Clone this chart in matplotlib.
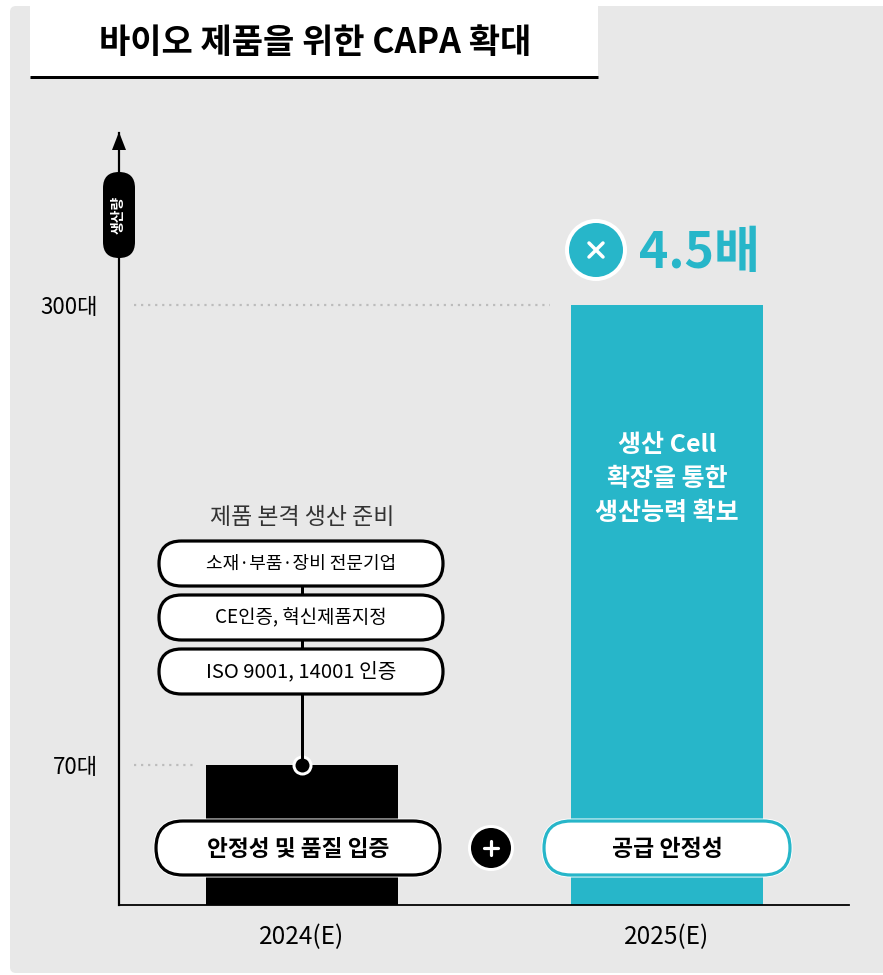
import matplotlib
matplotlib.use("Agg")
import matplotlib.pyplot as plt
from matplotlib.patches import FancyBboxPatch, Circle, Rectangle, Polygon

plt.rcParams['font.family'] = ['Noto Sans CJK KR', 'DejaVu Sans']

# ---- data ----
years = ["2024(E)", "2025(E)"]
capacity = [70, 300]
tick_values = [70, 300]
tick_labels = ["70대", "300대"]
title = "바이오 제품을 위한 CAPA 확대"
prep_heading = "제품 본격 생산 준비"
prep_items = ["소재·부품·장비 전문기업", "CE인증, 혁신제품지정", "ISO 9001, 14001 인증"]
bar_notes = ["안정성 및 품질 입증", "공급 안정성"]
expansion_text = "생산 Cell\n확장을 통한\n생산능력 확보"
multiplier_text = "4.5배"
y_label = "생산량"

TEAL = "#27b6c9"
BG = "#e8e8e8"
W, H = 883, 975
PX = 72 / 100  # points per pixel

fig = plt.figure(figsize=(W / 100, H / 100), dpi=100)
fig.patch.set_facecolor("white")

# background card, pixel coordinates
bg = fig.add_axes([0, 0, 1, 1], zorder=0)
bg.set_xlim(0, W)
bg.set_ylim(H, 0)
bg.axis("off")
bg.add_patch(FancyBboxPatch((10, 6), W + 20, 967, boxstyle="round,pad=0,rounding_size=6",
                            facecolor=BG, edgecolor="none"))
bg.add_patch(Rectangle((30, 0), 568, 77, facecolor="white", edgecolor="none"))
bg.plot([30, 598], [77, 77], color="black", lw=3 * PX, solid_capstyle="butt")
bg.text(315, 42, title, ha="center", va="center", fontsize=24.5, fontweight="bold", color="black")

# chart axes: x from 119 to 849 px, y from 905 (0) to 133 px
ax_left, ax_right, ax_bottom, ax_top = 119, 849, 905, 133
ax = fig.add_axes([ax_left / W, 1 - ax_bottom / H, (ax_right - ax_left) / W, (ax_bottom - ax_top) / H],
                  zorder=1)
ax.patch.set_alpha(0)
ax.set_xlim(-0.5, 1.5)
ax.set_ylim(0, (ax_bottom - ax_top) / 2.0)
xpos = list(range(len(years)))
ax.bar(xpos, capacity, width=192 / 365, color=["black", TEAL], zorder=2)

for s in ["top", "right"]:
    ax.spines[s].set_visible(False)
ax.spines["left"].set_linewidth(2.2 * PX)
ax.spines["bottom"].set_linewidth(1.8 * PX)
ax.set_xticks(xpos)
ax.set_xticklabels(years, fontsize=17.5)
ax.set_yticks(tick_values)
ax.set_yticklabels(tick_labels, fontsize=16)
ax.tick_params(axis="both", length=0)
ax.tick_params(axis="x", pad=14)
ax.tick_params(axis="y", pad=15)

# dotted guides from the axis to each bar
ax.plot([-0.46, 0.68], [300, 300], color="#bcbcbc", lw=2.2 * PX, ls=(0, (1, 2.2)), zorder=1)
ax.plot([-0.46, -0.29], [70, 70], color="#bcbcbc", lw=2.2 * PX, ls=(0, (1, 2.2)), zorder=1)

# marker at top of first bar
ax.plot([0], [capacity[0]], marker="o", markersize=17 * PX, markerfacecolor="black",
        markeredgecolor="white", markeredgewidth=3 * PX, zorder=6, clip_on=False)

# overlay in pixel coordinates for labels and callouts
ov = fig.add_axes([0, 0, 1, 1], zorder=2)
ov.patch.set_alpha(0)
ov.set_xlim(0, W)
ov.set_ylim(H, 0)
ov.axis("off")

# axis arrow head
ov.add_patch(Polygon([[119, 132], [112, 150], [126, 150]], closed=True, facecolor="black",
                     edgecolor="none"))
# y-axis label pill
ov.add_patch(FancyBboxPatch((103, 172), 32, 86, boxstyle="round,pad=0,rounding_size=16",
                            facecolor="black", edgecolor="none"))
ov.text(119, 215, y_label, rotation=90, ha="center", va="center", fontsize=10,
        color="white", fontweight="bold")


def pill(x0, y0, w, h, text, edge, fs, bold):
    ov.add_patch(FancyBboxPatch((x0, y0), w, h, boxstyle=f"round,pad=0,rounding_size={h / 2}",
                                facecolor="white", edgecolor="white", lw=5 * PX, zorder=3))
    ov.add_patch(FancyBboxPatch((x0, y0), w, h, boxstyle=f"round,pad=0,rounding_size={h / 2}",
                                facecolor="white", edgecolor=edge, lw=3.2 * PX, zorder=4))
    ov.text(x0 + w / 2, y0 + h / 2 + 1, text, ha="center", va="center", fontsize=fs,
            fontweight="bold" if bold else "normal", color="black", zorder=5)


# preparation callouts above the first bar
item_sizes = [13, 13.6, 14.6]
ov.plot([302, 302], [585, 760], color="black", lw=3 * PX, zorder=2)
ov.text(302, 517, prep_heading, ha="center", va="center", fontsize=16.5, color="#333333")
for i, item in enumerate(prep_items):
    y0 = 541 + i * 54
    ov.add_patch(FancyBboxPatch((159, y0), 284, 45, boxstyle="round,pad=0,rounding_size=22.5",
                                facecolor="white", edgecolor="black", lw=3.2 * PX, zorder=4))
    ov.text(301, y0 + 23, item, ha="center", va="center", fontsize=item_sizes[i],
            color="black", zorder=5)

# bottom labels on each bar
pill(156, 821, 284, 54, bar_notes[0], "black", 16.3, True)
pill(544, 821, 246, 54, bar_notes[1], TEAL, 16.5, True)

# plus sign between bars
ov.add_patch(Circle((491, 848), 23, facecolor="white", edgecolor="none", zorder=4))
ov.add_patch(Circle((491, 848), 20, facecolor="black", edgecolor="none", zorder=5))
ov.plot([484, 498], [848, 848], color="white", lw=3.2 * PX, solid_capstyle="round", zorder=6)
ov.plot([491, 491], [841, 855], color="white", lw=3.2 * PX, solid_capstyle="round", zorder=6)

# multiplier badge
ov.add_patch(Circle((596, 250), 31, facecolor="white", edgecolor="none", zorder=4))
ov.add_patch(Circle((596, 250), 27, facecolor=TEAL, edgecolor="none", zorder=5))
ov.plot([589, 603], [243, 257], color="white", lw=3.5 * PX, solid_capstyle="round", zorder=6)
ov.plot([589, 603], [257, 243], color="white", lw=3.5 * PX, solid_capstyle="round", zorder=6)
ov.text(639, 253, multiplier_text, ha="left", va="center", fontsize=36, fontweight="bold",
        color=TEAL)

# text inside the second bar
ov.text(667, 479, expansion_text, ha="center", va="center", fontsize=18, fontweight="bold",
        color="white", linespacing=1.55)

fig.savefig("out.png", dpi=100, facecolor="white")
